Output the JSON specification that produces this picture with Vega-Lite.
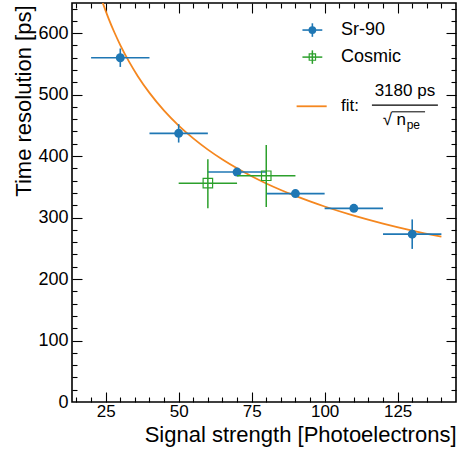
{
  "$schema": "https://vega.github.io/schema/vega-lite/v6.json",
  "width": 384,
  "height": 399,
  "autosize": {"type": "none"},
  "padding": {"left": 72, "top": 3, "right": 3, "bottom": 49},
  "background": "white",
  "config": {
    "view": {"stroke": "black", "strokeWidth": 1.6},
    "axis": {"domain": false, "grid": false, "labelFont": "Liberation Sans", "titleFont": "Liberation Sans", "labelColor": "black", "titleColor": "black", "tickColor": "black", "titleFontWeight": "normal", "tickWidth": 1.1},
    "text": {"font": "Liberation Sans", "color": "black"}
  },
  "datasets": {
    "sr90": [
      {"n": 30, "t": 560, "nlo": 20, "nhi": 40, "tlo": 545, "thi": 575},
      {"n": 50, "t": 437, "nlo": 40, "nhi": 60, "tlo": 422, "thi": 452},
      {"n": 70, "t": 374, "nlo": 60, "nhi": 80, "tlo": 369, "thi": 379},
      {"n": 90, "t": 339, "nlo": 80, "nhi": 100, "tlo": 334, "thi": 344},
      {"n": 110, "t": 315, "nlo": 100, "nhi": 120, "tlo": 311, "thi": 319},
      {"n": 130, "t": 273, "nlo": 120, "nhi": 140, "tlo": 249, "thi": 297}
    ],
    "cosmic": [
      {"n": 60, "t": 356, "nlo": 50, "nhi": 70, "tlo": 315, "thi": 395},
      {"n": 80, "t": 368, "nlo": 70, "nhi": 90, "tlo": 317, "thi": 418}
    ],
    "fit": [
      {"n": 20, "t": 711.1}, {"n": 22, "t": 678.0}, {"n": 24, "t": 649.1}, {"n": 26, "t": 623.7},
      {"n": 28, "t": 601.0}, {"n": 30, "t": 580.6}, {"n": 33, "t": 553.6}, {"n": 36, "t": 530.0},
      {"n": 40, "t": 502.8}, {"n": 45, "t": 474.0}, {"n": 50, "t": 449.7}, {"n": 55, "t": 428.8},
      {"n": 60, "t": 410.5}, {"n": 65, "t": 394.4}, {"n": 70, "t": 380.1}, {"n": 75, "t": 367.2},
      {"n": 80, "t": 355.5}, {"n": 85, "t": 344.9}, {"n": 90, "t": 335.2}, {"n": 95, "t": 326.3},
      {"n": 100, "t": 318.0}, {"n": 110, "t": 303.2}, {"n": 120, "t": 290.3}, {"n": 130, "t": 278.9},
      {"n": 140, "t": 268.8}
    ],
    "one": [{"k": 1}]
  },
  "resolve": {"axis": {"x": "independent", "y": "independent"}},
  "layer": [
    {
      "data": {"name": "fit"},
      "mark": {"type": "line", "color": "#f5871f", "strokeWidth": 1.8, "clip": true, "interpolate": "monotone"},
      "encoding": {
        "x": {"field": "n", "type": "quantitative", "scale": {"domain": [13.46, 145], "nice": false, "zero": false},
          "axis": {"orient": "bottom", "values": [25, 50, 75, 100, 125], "ticks": false, "labelFontSize": 17, "labelPadding": 1,
            "title": "Signal strength [Photoelectrons]", "titleFontSize": 22, "titleAnchor": "end", "titleAlign": "right", "titleX": 384, "titleY": 39, "titleBaseline": "alphabetic"}},
        "y": {"field": "t", "type": "quantitative", "scale": {"domain": [0, 649], "nice": false, "zero": false},
          "axis": {"orient": "left", "values": [0, 100, 200, 300, 400, 500, 600], "ticks": false, "labelFontSize": 18, "labelPadding": 4,
            "title": "Time resolution [ps]", "titleFontSize": 22, "titleAngle": 270, "titleAlign": "right", "titleBaseline": "alphabetic", "titleAnchor": "end", "titleX": -42, "titleY": 2}}
      }
    },
    {
      "data": {"name": "sr90"},
      "mark": {"type": "rule", "color": "#1f77b4", "strokeWidth": 1.6},
      "encoding": {
        "x": {"field": "nlo", "type": "quantitative", "axis": {"orient": "bottom", "values": [25, 50, 75, 100, 125], "labels": false, "title": null, "tickSize": -10}},
        "x2": {"field": "nhi"},
        "y": {"field": "t", "type": "quantitative", "axis": {"orient": "left", "values": [100, 200, 300, 400, 500, 600], "labels": false, "title": null, "tickSize": -10}}
      }
    },
    {
      "data": {"name": "sr90"},
      "mark": {"type": "rule", "color": "#1f77b4", "strokeWidth": 1.6},
      "encoding": {
        "x": {"field": "n", "type": "quantitative", "axis": {"orient": "bottom", "values": [15, 20, 30, 35, 40, 45, 55, 60, 65, 70, 80, 85, 90, 95, 105, 110, 115, 120, 130, 135, 140], "labels": false, "title": null, "tickSize": -5}},
        "y": {"field": "tlo", "type": "quantitative", "axis": {"orient": "left", "values": [20, 40, 60, 80, 120, 140, 160, 180, 220, 240, 260, 280, 320, 340, 360, 380, 420, 440, 460, 480, 520, 540, 560, 580, 620, 640], "labels": false, "title": null, "tickSize": -5}},
        "y2": {"field": "thi"}
      }
    },
    {
      "data": {"name": "sr90"},
      "mark": {"type": "point", "shape": "circle", "filled": true, "color": "#1f77b4", "size": 80, "opacity": 1},
      "encoding": {
        "x": {"field": "n", "type": "quantitative", "axis": {"orient": "top", "values": [25, 50, 75, 100, 125], "labels": false, "title": null, "tickSize": -10}},
        "y": {"field": "t", "type": "quantitative", "axis": {"orient": "right", "values": [100, 200, 300, 400, 500, 600], "labels": false, "title": null, "tickSize": -10}}
      }
    },
    {
      "data": {"name": "cosmic"},
      "mark": {"type": "rule", "color": "#2ca02c", "strokeWidth": 1.5},
      "encoding": {
        "x": {"field": "nlo", "type": "quantitative", "axis": {"orient": "top", "values": [15, 20, 30, 35, 40, 45, 55, 60, 65, 70, 80, 85, 90, 95, 105, 110, 115, 120, 130, 135, 140], "labels": false, "title": null, "tickSize": -5}},
        "x2": {"field": "nhi"},
        "y": {"field": "t", "type": "quantitative", "axis": {"orient": "right", "values": [20, 40, 60, 80, 120, 140, 160, 180, 220, 240, 260, 280, 320, 340, 360, 380, 420, 440, 460, 480, 520, 540, 560, 580, 620, 640], "labels": false, "title": null, "tickSize": -5}}
      }
    },
    {
      "data": {"name": "cosmic"},
      "mark": {"type": "rule", "color": "#2ca02c", "strokeWidth": 1.5},
      "encoding": {
        "x": {"field": "n", "type": "quantitative", "axis": null},
        "y": {"field": "tlo", "type": "quantitative", "axis": null},
        "y2": {"field": "thi"}
      }
    },
    {
      "data": {"name": "cosmic"},
      "mark": {"type": "square", "filled": false, "color": "#2ca02c", "size": 90, "strokeWidth": 1.2, "opacity": 1},
      "encoding": {
        "x": {"field": "n", "type": "quantitative", "axis": null},
        "y": {"field": "t", "type": "quantitative", "axis": null}
      }
    },
    {
      "data": {"name": "one"},
      "mark": {"type": "rule", "color": "#1f77b4", "strokeWidth": 1.6},
      "encoding": {
        "x": {"datum": 92.4, "type": "quantitative", "axis": null}, "x2": {"datum": 99.2},
        "y": {"datum": 605, "type": "quantitative", "axis": null}
      }
    },
    {
      "data": {"name": "one"},
      "mark": {"type": "rule", "color": "#1f77b4", "strokeWidth": 1.6},
      "encoding": {
        "x": {"datum": 95.8, "type": "quantitative", "axis": null},
        "y": {"datum": 594, "type": "quantitative", "axis": null}, "y2": {"datum": 616}
      }
    },
    {
      "data": {"name": "one"},
      "mark": {"type": "point", "shape": "circle", "filled": true, "color": "#1f77b4", "size": 60, "opacity": 1},
      "encoding": {
        "x": {"datum": 95.8, "type": "quantitative", "axis": null},
        "y": {"datum": 605, "type": "quantitative", "axis": null}
      }
    },
    {
      "data": {"name": "one"},
      "mark": {"type": "rule", "color": "#2ca02c", "strokeWidth": 1.5},
      "encoding": {
        "x": {"datum": 92.4, "type": "quantitative", "axis": null}, "x2": {"datum": 99.2},
        "y": {"datum": 561, "type": "quantitative", "axis": null}
      }
    },
    {
      "data": {"name": "one"},
      "mark": {"type": "rule", "color": "#2ca02c", "strokeWidth": 1.5},
      "encoding": {
        "x": {"datum": 95.8, "type": "quantitative", "axis": null},
        "y": {"datum": 550, "type": "quantitative", "axis": null}, "y2": {"datum": 572}
      }
    },
    {
      "data": {"name": "one"},
      "mark": {"type": "square", "filled": false, "color": "#2ca02c", "size": 40, "strokeWidth": 1.2, "opacity": 1},
      "encoding": {
        "x": {"datum": 95.8, "type": "quantitative", "axis": null},
        "y": {"datum": 561, "type": "quantitative", "axis": null}
      }
    },
    {
      "data": {"name": "one"},
      "mark": {"type": "rule", "color": "#f5871f", "strokeWidth": 1.8},
      "encoding": {
        "x": {"datum": 90.4, "type": "quantitative", "axis": null}, "x2": {"datum": 100.7},
        "y": {"datum": 481, "type": "quantitative", "axis": null}
      }
    },
    {
      "data": {"name": "one"},
      "mark": {"type": "text", "align": "left", "baseline": "middle", "fontSize": 18},
      "encoding": {
        "x": {"datum": 105.6, "type": "quantitative", "axis": null},
        "y": {"datum": 605, "type": "quantitative", "axis": null},
        "text": {"value": "Sr-90"}
      }
    },
    {
      "data": {"name": "one"},
      "mark": {"type": "text", "align": "left", "baseline": "middle", "fontSize": 18},
      "encoding": {
        "x": {"datum": 105.6, "type": "quantitative", "axis": null},
        "y": {"datum": 561, "type": "quantitative", "axis": null},
        "text": {"value": "Cosmic"}
      }
    },
    {
      "data": {"name": "one"},
      "mark": {"type": "text", "align": "left", "baseline": "middle", "fontSize": 17},
      "encoding": {
        "x": {"datum": 105.6, "type": "quantitative", "axis": null},
        "y": {"datum": 481, "type": "quantitative", "axis": null},
        "text": {"value": "fit:"}
      }
    },
    {
      "data": {"name": "one"},
      "mark": {"type": "text", "align": "center", "baseline": "middle", "fontSize": 17},
      "encoding": {
        "x": {"datum": 127.5, "type": "quantitative", "axis": null},
        "y": {"datum": 506, "type": "quantitative", "axis": null},
        "text": {"value": "3180 ps"}
      }
    },
    {
      "data": {"name": "one"},
      "mark": {"type": "rule", "color": "black", "strokeWidth": 1.2},
      "encoding": {
        "x": {"datum": 116.2, "type": "quantitative", "axis": null}, "x2": {"datum": 138.8},
        "y": {"datum": 483, "type": "quantitative", "axis": null}
      }
    },
    {
      "data": {"name": "one"},
      "mark": {"type": "text", "align": "center", "baseline": "middle", "fontSize": 17},
      "encoding": {
        "x": {"datum": 121.5, "type": "quantitative", "axis": null},
        "y": {"datum": 458, "type": "quantitative", "axis": null},
        "text": {"value": "√"}
      }
    },
    {
      "data": {"name": "one"},
      "mark": {"type": "rule", "color": "black", "strokeWidth": 1},
      "encoding": {
        "x": {"datum": 123.0, "type": "quantitative", "axis": null}, "x2": {"datum": 134.4},
        "y": {"datum": 472, "type": "quantitative", "axis": null}
      }
    },
    {
      "data": {"name": "one"},
      "mark": {"type": "text", "align": "left", "baseline": "middle", "fontSize": 17},
      "encoding": {
        "x": {"datum": 124.6, "type": "quantitative", "axis": null},
        "y": {"datum": 458, "type": "quantitative", "axis": null},
        "text": {"value": "n"}
      }
    },
    {
      "data": {"name": "one"},
      "mark": {"type": "text", "align": "left", "baseline": "middle", "fontSize": 12},
      "encoding": {
        "x": {"datum": 128.1, "type": "quantitative", "axis": null},
        "y": {"datum": 451, "type": "quantitative", "axis": null},
        "text": {"value": "pe"}
      }
    }
  ]
}
